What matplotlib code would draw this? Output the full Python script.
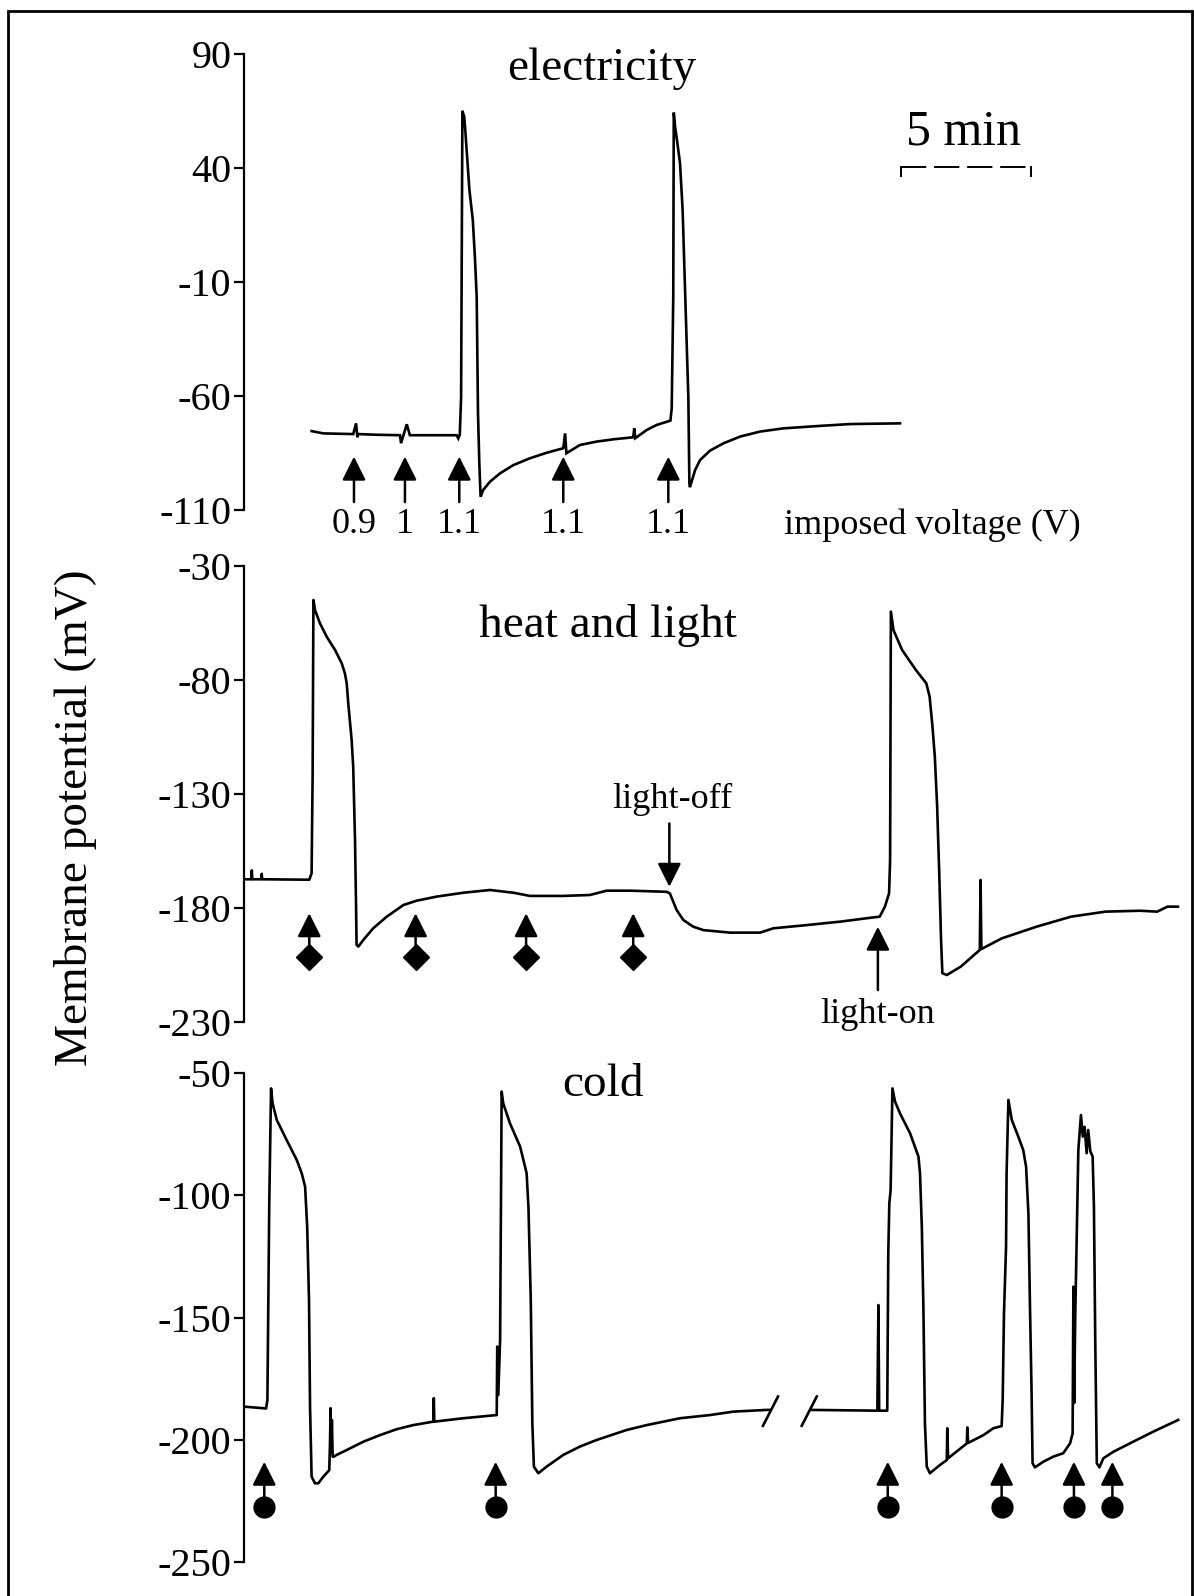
import matplotlib
matplotlib.use("Agg")
import matplotlib.pyplot as plt
from matplotlib.patches import Rectangle

plt.rcParams['font.family'] = ['Liberation Serif', 'DejaVu Serif']

# ---------------- data (time in min, potential in mV) ----------------
elec_t = [2.60, 3.05, 4.20, 4.31, 4.36, 4.40, 5.10, 6.00, 6.04, 6.26, 6.38, 8.18, 8.24, 8.30, 8.35,
          8.40, 8.47, 8.51, 8.59, 8.67, 8.80, 8.88, 8.95, 9.00, 9.05, 9.10, 9.20, 9.46, 9.85, 10.36,
          11.00, 11.64, 12.28, 12.35, 12.40, 12.92, 13.56, 14.20, 14.97, 15.01, 15.05, 15.49, 15.87,
          16.26, 16.40, 16.45, 16.51, 16.53, 16.58, 16.67, 16.77, 16.87, 16.96, 17.05, 17.09, 17.13,
          17.15, 17.35, 17.54, 17.92, 18.43, 19.08, 19.85, 20.74, 22.03, 23.31, 25.23]
elec_v = [-75.4, -76.4, -76.7, -72.0, -78.1, -76.7, -77.0, -77.2, -80.7, -72.4, -77.2, -77.2, -78.6,
          -77.0, -60.3, 65.1, 62.5, 56.7, 43.5, 30.3, 17.2, 1.1, -16.5, -67.5, -89.4, -104.2, -101.2,
          -97.6, -93.9, -90.3, -87.3, -84.9, -82.9, -76.4, -85.1, -81.5, -80.0, -79.0, -78.1, -74.2,
          -78.5, -74.9, -72.7, -71.3, -70.8, -65.4, -16.4, 64.3, 58.1, 50.8, 42.1, 21.6, -12.1, -45.7,
          -60.3, -98.3, -100.0, -92.5, -88.1, -84.0, -80.8, -77.8, -75.6, -74.2, -73.2, -72.3, -72.0]
elec_stim_t = [4.23, 6.19, 8.28, 12.28, 16.32]
elec_stim_lbl = ["0.9", "1", "1.1", "1.1", "1.1"]

heat_t = [0.04, 0.28, 0.30, 0.32, 0.66, 0.68, 0.70, 2.51, 2.60, 2.64, 2.67, 2.73, 2.92, 3.18, 3.50,
          3.76, 3.88, 3.95, 4.01, 4.14, 4.20, 4.27, 4.31, 4.33, 4.40, 4.59, 4.97, 5.49, 6.13, 6.64,
          7.41, 8.44, 9.46, 10.36, 11.00, 12.28, 13.30, 13.95, 14.85, 16.26, 16.38, 16.64, 16.90,
          17.28, 17.67, 18.69, 19.85, 20.36, 21.64, 22.92, 24.08, 24.45, 24.65, 24.81, 24.85, 24.88,
          24.98, 25.31, 25.84, 26.24, 26.37, 26.48, 26.57, 26.66, 26.74, 26.81, 26.86, 27.03, 27.57,
          28.30, 28.33, 28.36, 29.15, 30.48, 31.81, 33.13, 34.46, 35.12, 35.52, 35.92]
heat_v = [-167.4, -167.4, -163.5, -167.4, -167.4, -165.0, -167.4, -167.6, -164.8, -120.9, -44.9,
          -49.3, -55.1, -61.0, -66.8, -72.7, -77.1, -81.4, -90.2, -106.3, -118.0, -150.2, -179.4,
          -196.2, -196.9, -194.0, -188.9, -183.8, -178.7, -176.8, -175.0, -173.3, -172.1, -173.3,
          -174.7, -174.7, -174.3, -172.4, -172.4, -172.9, -173.6, -180.9, -185.3, -188.2, -189.7,
          -190.8, -190.8, -188.9, -187.5, -186.0, -184.3, -183.8, -179.4, -173.6, -159.0, -50.0,
          -58.1, -66.8, -75.6, -81.4, -87.3, -100.5, -113.6, -135.6, -164.8, -194.0, -208.6, -209.4,
          -205.7, -198.4, -167.7, -198.0, -193.3, -188.2, -183.8, -181.6, -181.2, -181.6, -179.4,
          -179.4]
heat_stim_t = [2.51, 6.60, 10.85, 14.97]
light_off_t = 16.36
light_on_t = 24.38

cold1_t = [0.04, 0.85, 0.90, 0.97, 1.04, 1.10, 1.26, 1.64, 2.03, 2.22, 2.35, 2.43, 2.50, 2.54, 2.60,
           2.73, 2.86, 3.05, 3.28, 3.31, 3.33, 3.36, 3.38, 3.41, 3.46, 3.56, 3.95, 4.59, 5.23, 5.87,
           6.51, 7.28, 7.30, 7.32, 8.44, 9.72, 9.74, 9.78, 9.85, 9.91, 9.97, 10.23, 10.62, 10.87,
           10.94, 11.03, 11.09, 11.15, 11.32, 11.64, 12.28, 12.92, 13.56, 14.72, 15.49, 16.77, 17.92,
           18.82, 20.10, 20.25]
cold1_v = [-186.5, -187.2, -183.7, -104.7, -56.3, -62.4, -69.2, -77.4, -85.6, -91.0, -96.5, -112.9,
           -142.8, -186.5, -215.1, -217.8, -217.8, -215.1, -212.4, -200.0, -187.1, -205.0, -192.0,
           -206.9, -206.9, -206.2, -204.2, -200.8, -198.1, -195.7, -194.0, -192.6, -183.0, -192.6,
           -191.2, -189.9, -161.9, -181.7, -159.2, -57.6, -62.4, -70.6, -80.1, -91.0, -104.7, -142.8,
           -193.3, -211.0, -213.7, -211.0, -206.2, -202.8, -200.1, -196.0, -194.0, -191.2, -189.9,
           -188.5, -187.8, -187.8]
cold2_t = [21.83, 24.33, 24.36, 24.40, 24.43, 24.74, 24.78, 24.82, 24.87, 24.94, 25.04, 25.23, 25.62,
           25.94, 26.00, 26.07, 26.13, 26.19, 26.26, 26.38, 26.77, 27.03, 27.05, 27.08, 27.80, 27.82,
           27.85, 28.44, 28.82, 29.14, 29.18, 29.23, 29.31, 29.33, 29.40, 29.53, 29.78, 29.97, 30.08,
           30.17, 30.23, 30.29, 30.33, 30.42, 30.74, 31.13, 31.51, 31.77, 31.87, 31.90, 31.93, 31.97,
           32.09, 32.19, 32.26, 32.33, 32.41, 32.47, 32.55, 32.64, 32.69, 32.74, 32.80, 32.90, 33.05,
           33.44, 34.20, 34.97, 35.93]
cold2_v = [-187.8, -188.1, -188.1, -144.9, -188.1, -188.1, -123.7, -103.3, -97.9, -56.3, -61.7, -66.5,
           -74.7, -84.2, -91.0, -112.9, -145.6, -193.3, -211.0, -213.7, -210.3, -208.3, -195.3, -207.6,
           -201.5, -195.0, -201.3, -198.1, -195.3, -194.4, -183.7, -148.3, -121.0, -91.0, -61.0, -69.2,
           -76.0, -81.5, -88.3, -107.4, -145.6, -179.7, -209.6, -211.3, -209.0, -206.9, -205.5, -201.5,
           -197.4, -137.4, -185.0, -150.0, -81.5, -67.2, -76.0, -72.0, -82.8, -73.3, -82.0, -84.2,
           -104.7, -159.2, -209.6, -211.3, -207.6, -204.9, -200.8, -196.7, -191.9]
cold_stim_t = [0.78, 9.68, 24.76, 29.14, 31.92, 33.40]
break_t = [(19.96, 20.54), (21.45, 22.03)]
break_v = (-194.3, -182.3)

panel_titles = ["electricity", "heat and light", "cold"]
ylims = [(-110, 90), (-230, -30), (-250, -50)]
yticks = [[90, 40, -10, -60, -110], [-30, -80, -130, -180, -230], [-50, -100, -150, -200, -250]]
ylabel = "Membrane potential (mV)"
scalebar_min = 5

# ---------------- figure ----------------
W, H = 1194, 1596
fig = plt.figure(figsize=(W / 100, H / 100), dpi=100)

def px_axes(x0, y0, x1, y1):
    return fig.add_axes([x0 / W, 1 - y1 / H, (x1 - x0) / W, (y1 - y0) / H])

axes = [px_axes(244, 54, 1180, 510), px_axes(244, 566, 1180, 1022), px_axes(244, 1073, 1180, 1562)]
LW = 1.9
for ax, yl, yt in zip(axes, ylims, yticks):
    ax.set_xlim(0, 36)
    ax.set_ylim(*yl)
    ax.set_yticks(yt)
    ax.set_yticklabels([str(v) for v in yt])
    ax.set_xticks([])
    for s in ['top', 'right', 'bottom']:
        ax.spines[s].set_visible(False)
    ax.spines['left'].set_linewidth(1.6)
    ax.tick_params(axis='y', direction='out', length=7, width=1.6, pad=2, labelsize=29)
    ax.patch.set_alpha(0)

arrow_kw = dict(arrowstyle='-|>,head_length=0.72,head_width=0.36', lw=1.8, color='k',
                shrinkA=0, shrinkB=0, mutation_scale=20)

# panel 1
ax = axes[0]
ax.plot(elec_t, elec_v, color='k', lw=LW, solid_joinstyle='miter')
for t, lbl in zip(elec_stim_t, elec_stim_lbl):
    ax.annotate('', xy=(t, -86.6), xytext=(t, -106.5), arrowprops=arrow_kw, annotation_clip=False)
    ax.text(t, -116.5, lbl, ha='center', va='center', fontsize=26, clip_on=False)
ax.text(26.46, -116.5, "imposed voltage (V)", ha='center', va='center', fontsize=26, clip_on=False)
ax.plot([25.25, 25.25 + scalebar_min], [40.6, 40.6], color='k', lw=1.4, ls=(0, (13, 4)))
ax.plot([25.25, 25.25], [40.6, 36.5], color='k', lw=1.4)
ax.plot([25.25 + scalebar_min] * 2, [40.6, 36.5], color='k', lw=1.4)
fig.text(964 / W, 1 - 132 / H, f"{scalebar_min} min", ha='center', va='center', fontsize=36)

# panel 2
ax = axes[1]
ax.plot(heat_t, heat_v, color='k', lw=LW)
for t in heat_stim_t:
    ax.annotate('', xy=(t, -182.3), xytext=(t, -201.6), arrowprops=arrow_kw, annotation_clip=False)
    ax.plot([t], [-201.6], marker='D', ms=13, color='k', clip_on=False)
ax.annotate('', xy=(light_off_t, -170.7), xytext=(light_off_t, -142.9), arrowprops=arrow_kw)
ax.text(light_off_t + 0.1, -132.2, "light-off", ha='center', va='center', fontsize=26)
ax.annotate('', xy=(light_on_t, -188.2), xytext=(light_on_t, -216.0), arrowprops=arrow_kw)
ax.text(light_on_t, -226.9, "light-on", ha='center', va='center', fontsize=26)

# panel 3
ax = axes[2]
ax.plot(cold1_t, cold1_v, color='k', lw=LW)
ax.plot(cold2_t, cold2_v, color='k', lw=LW)
for bt in break_t:
    ax.plot(bt, break_v, color='k', lw=LW)
for t in cold_stim_t:
    ax.annotate('', xy=(t, -209.0), xytext=(t, -227.4), arrowprops=arrow_kw, annotation_clip=False)
    ax.plot([t], [-227.4], marker='o', ms=15, color='k', clip_on=False)

# titles
fig.text(602 / W, 1 - 69 / H, panel_titles[0], ha='center', va='center', fontsize=34)
fig.text(608 / W, 1 - 626 / H, panel_titles[1], ha='center', va='center', fontsize=34)
fig.text(603 / W, 1 - 1085 / H, panel_titles[2], ha='center', va='center', fontsize=34)
fig.text(76 / W, 1 - 818 / H, ylabel, ha='center', va='center', rotation=90, fontsize=34)

# border
fig.patches.append(Rectangle((8 / W, -0.01), (1192 - 8) / W, 1 - 11 / H + 0.01,
                             transform=fig.transFigure, fill=False, lw=2, edgecolor='k'))

fig.savefig("out.png", dpi=100, facecolor='white')
